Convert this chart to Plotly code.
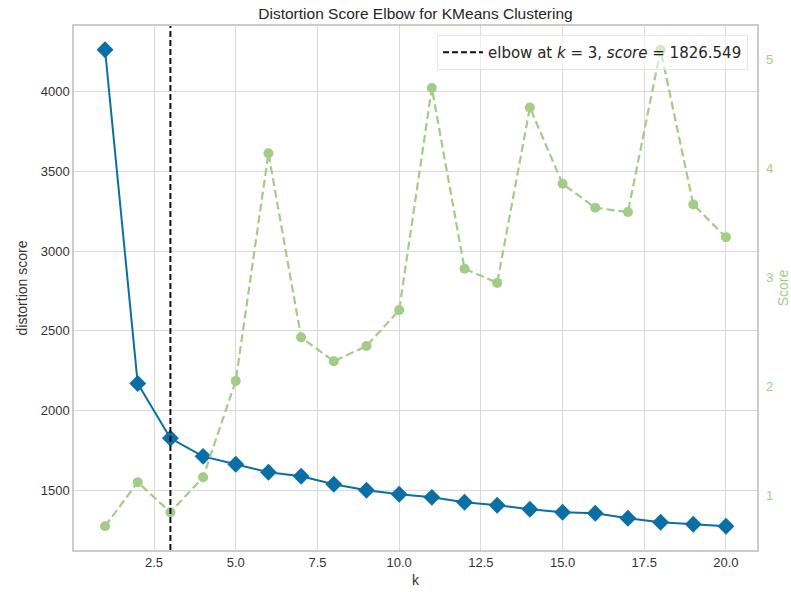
import plotly.graph_objects as go

k_values = list(range(1, 21))
distortion = [4263, 2170, 1826.549, 1713, 1663, 1613, 1588, 1538, 1500, 1475,
              1456, 1425, 1406, 1381, 1362, 1356, 1325, 1300, 1287, 1275]
score = [0.716, 1.12, 0.844, 1.165, 2.05, 4.14, 2.45, 2.23, 2.37, 2.70,
         4.74, 3.08, 2.95, 4.56, 3.86, 3.64, 3.60, 5.09, 3.67, 3.37]
elbow_k = 3
elbow_score = 1826.549

title = "Distortion Score Elbow for KMeans Clustering"
x_ticks = [2.5, 5.0, 7.5, 10.0, 12.5, 15.0, 17.5, 20.0]
y_ticks = [1500, 2000, 2500, 3000, 3500, 4000]
y2_ticks = [1, 2, 3, 4, 5]

BLUE = "#0a6fa5"
GREEN = "#a3cc88"
GRID = "#d9d9d9"
FRAME = "#cccccc"
TXT = "#333333"
FONT = "Liberation Sans, Arial, sans-serif"


def padded(vals, frac=0.05):
    lo, hi = min(vals), max(vals)
    s = hi - lo
    return [lo - frac * s, hi + frac * s]


fig = go.Figure()
fig.add_trace(go.Scatter(
    x=k_values, y=distortion, mode="lines+markers", showlegend=False,
    line=dict(color=BLUE, width=2),
    marker=dict(symbol="diamond", size=13, color=BLUE),
    yaxis="y", name="distortion"))
fig.add_trace(go.Scatter(
    x=k_values, y=score, mode="lines+markers", showlegend=False,
    line=dict(color=GREEN, width=2.2, dash="8px,4px"),
    marker=dict(symbol="circle", size=10, color=GREEN),
    yaxis="y2", name="score"))

fig.add_vline(x=elbow_k, line=dict(color="#111111", width=2, dash="6px,3px"),
              showlegend=True,
              name=f"elbow at <i>k</i> = {elbow_k}, <i>score</i> = {elbow_score:.3f}")

fig.update_layout(
    width=791, height=592,
    margin=dict(l=74, r=34, t=26, b=42, autoexpand=False),
    paper_bgcolor="white", plot_bgcolor="white",
    font=dict(family=FONT, size=13, color=TXT),
    title=dict(text=title, x=0.5, xref="paper", xanchor="center",
               y=1 - 14 / 592, yref="container", yanchor="middle",
               font=dict(size=15.5, color="#262626", family=FONT)),
    xaxis=dict(range=padded(k_values), tickvals=x_ticks, tickformat=".1f",
               showgrid=True, gridcolor=GRID, gridwidth=1,
               showline=True, linecolor=FRAME, linewidth=1.5, mirror=True,
               zeroline=False, ticks="", ticklen=0, automargin=False,
               title=dict(text="k", font=dict(size=14), standoff=6)),
    yaxis=dict(range=padded(distortion), tickvals=y_ticks,
               showgrid=True, gridcolor=GRID, gridwidth=1,
               showline=True, linecolor=FRAME, linewidth=1.5, mirror=True,
               zeroline=False, ticks="", automargin=False,
               title=dict(text="distortion score", font=dict(size=14), standoff=10)),
    yaxis2=dict(range=padded(score), tickvals=y2_ticks, overlaying="y",
                side="right", showgrid=False, zeroline=False,
                showline=False, ticks="", automargin=False,
                ticklabelstandoff=8,
                tickfont=dict(color=GREEN, size=13),
                title=dict(text="Score", font=dict(size=14, color=GREEN), standoff=11)),
    legend=dict(x=(748 - 74) / 683, xanchor="right", y=(550 - 35) / 524, yanchor="top",
                bgcolor="rgba(255,255,255,0.55)", bordercolor="#e6e6e6", borderwidth=1,
                font=dict(size=15, family="DejaVu Sans, sans-serif", color="#262626"),
                itemwidth=40),
)

fig.write_html("out.html")
